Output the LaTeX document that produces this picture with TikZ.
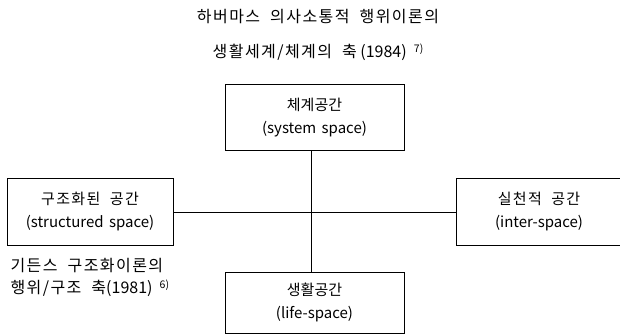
\documentclass[tikz,border=0pt]{standalone}
\usepackage{fontspec}
\setmainfont{Noto Sans CJK KR}
\newfontfamily\krs[LetterSpace=9,WordSpace=2.0]{Noto Sans CJK KR}
\newfontfamily\krw[WordSpace=1.6]{Noto Sans CJK KR}
\newcommand{\supnote}[1]{\raisebox{5pt}{\fontsize{10.5}{10.5}\selectfont #1}}
\begin{document}
\begin{tikzpicture}[x=1pt,y=-1pt,
  font=\fontsize{15}{23}\selectfont,
  box/.style={draw, line width=0.9pt, align=center, inner sep=0pt},
  link/.style={line width=0.9pt}]
\useasboundingbox (0,0) rectangle (620,335);
\clip (0,0) rectangle (620,335);
\node[align=center, font=\fontsize{16}{35}\selectfont] (title) at (318,34.5)
  {{\krs 하버마스 의사소통적 행위이론의}\\{\krs 생활세계/체계의 축}\ (1984)\ \ \supnote{7)}};
\coordinate (c) at (311,213);
\node[box, minimum width=179, minimum height=66] (sys) at (314.5,117.5)
  {체계공간\\{\krw (system space)}};
\node[box, minimum width=179, minimum height=61] (life) at (314.5,302.5)
  {생활공간\\(life-space)};
\node[box, minimum width=166, minimum height=67] (struct) at (90,212)
  {{\krs 구조화된 공간}\\{\krw (structured space)}};
\node[box, minimum width=166, minimum height=67] (inter) at (539,212)
  {{\krs 실천적 공간}\\(inter-space)};
\node[align=left, anchor=west, font=\fontsize{16}{21.5}\selectfont] (cap) at (7,277.5)
  {{\krs 기든스 구조화이론의}\\{\krs 행위/구조 축}(1981)\ \ \supnote{6)}};
\draw[link] (struct.east) -- (inter.west);
\draw[link] (sys.south -| c) -- (life.north -| c);
\end{tikzpicture}
\end{document}
